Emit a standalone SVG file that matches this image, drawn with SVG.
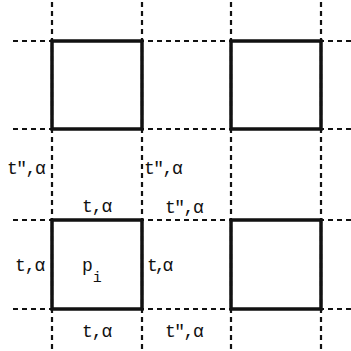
<svg xmlns="http://www.w3.org/2000/svg" width="351" height="351" viewBox="0 0 351 351">
<style>
.grid{stroke:#111;stroke-width:2.2;stroke-dasharray:5,4;fill:none}
.sq{stroke:#111;stroke-width:3.5;fill:none;stroke-linecap:square}
.lb{font-family:"Liberation Mono",monospace;font-size:18px;fill:#111}
</style>
<rect width="351" height="351" fill="#fff"/>
<g id="connectors">
<line class="grid" x1="13" y1="41" x2="351" y2="41"/>
<line class="grid" x1="13" y1="129" x2="351" y2="129"/>
<line class="grid" x1="13" y1="220" x2="351" y2="220"/>
<line class="grid" x1="13" y1="309" x2="351" y2="309"/>
<line class="grid" x1="52" y1="2" x2="52" y2="351"/>
<line class="grid" x1="142" y1="2" x2="142" y2="351"/>
<line class="grid" x1="231" y1="2" x2="231" y2="351"/>
<line class="grid" x1="321" y1="2" x2="321" y2="351"/>
</g>
<g id="sq1"><rect class="sq" x="52" y="41" width="90" height="88"/></g>
<g id="sq2"><rect class="sq" x="231" y="41" width="90" height="88"/></g>
<g id="sq3"><rect class="sq" x="52" y="220" width="90" height="89"/>
<text class="lb" x="82" y="271">p<tspan font-size="15" dy="11">i</tspan></text></g>
<g id="sq4"><rect class="sq" x="231" y="220" width="90" height="89"/></g>
<g id="labels">
<text class="lb" x="7" y="174" letter-spacing="-1.5">t″,α</text>
<text class="lb" x="144" y="174" letter-spacing="-1.5">t″,α</text>
<text class="lb" x="82" y="212" letter-spacing="-1">t,α</text>
<text class="lb" x="165" y="213" letter-spacing="-1.5">t″,α</text>
<text class="lb" x="15" y="271" letter-spacing="-1">t,α</text>
<text class="lb" x="147" y="271" letter-spacing="-3">t,α</text>
<text class="lb" x="82" y="337" letter-spacing="-1">t,α</text>
<text class="lb" x="165" y="337" letter-spacing="-1.5">t″,α</text>
</g>
</svg>
